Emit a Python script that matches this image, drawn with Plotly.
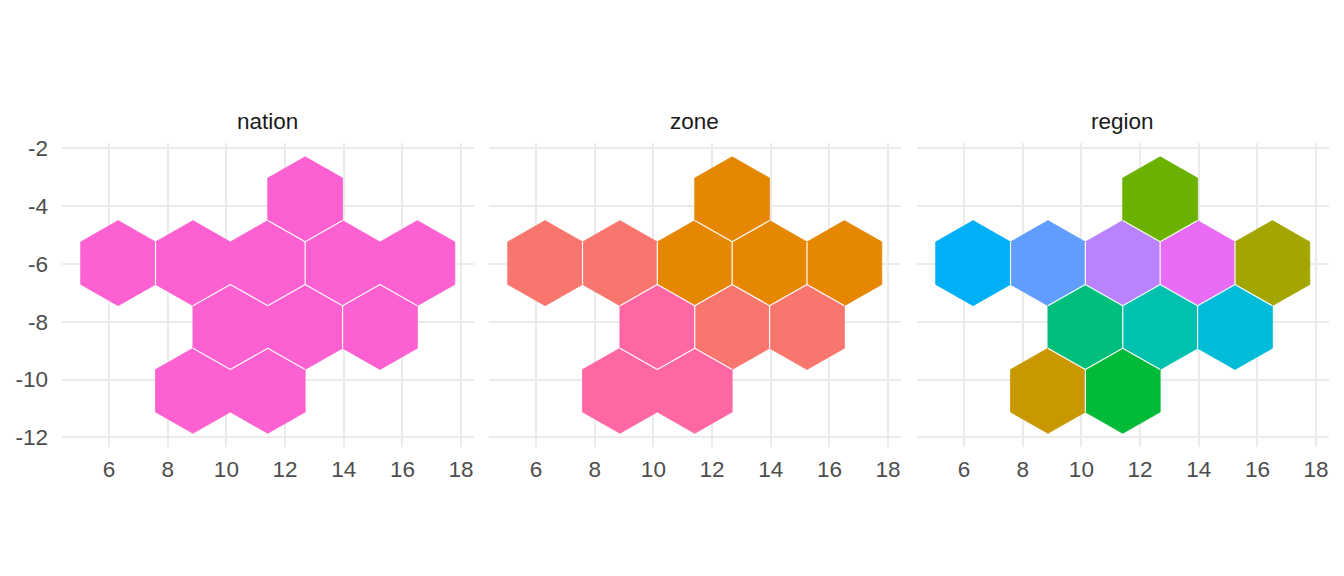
import numpy as np
import plotly.graph_objects as go

# ---------------- data ----------------
facets = ["nation", "zone", "region"]

regions = ["R01", "R02", "R03", "R04", "R05", "R06", "R07", "R08", "R09", "R10", "R11"]
hex_x = [6.31, 8.86, 11.41, 13.96, 16.51, 12.685, 10.135, 12.685, 15.235, 8.86, 11.41]
hex_y = [-5.97, -5.97, -5.97, -5.97, -5.97, -3.76, -8.18, -8.18, -8.18, -10.39, -10.39]
zones = ["Z1", "Z1", "Z2", "Z2", "Z2", "Z2", "Z3", "Z1", "Z1", "Z3", "Z3"]
nations = ["N"] * 11

# shared edges that appear seamless (no white line) in each facet
merged_edges = {
    "nation": [("R02", "R03"), ("R04", "R05"), ("R07", "R08"), ("R10", "R11")],
    "zone": [("R10", "R11")],
    "region": [],
}

x_ticks = [6, 8, 10, 12, 14, 16, 18]
x_tick_labels = ["6", "8", "10", "12", "14", "16", "18"]
y_ticks = [-2, -4, -6, -8, -10, -12]
y_tick_labels = ["-2", "-4", "-6", "-8", "-10", "-12"]

# ---------------- styles ----------------
fill_colors = {
    "N": "#FD61D1",
    "Z1": "#F8766D", "Z2": "#E58700", "Z3": "#FF67A4",
    "R01": "#00B0F6", "R02": "#619CFF", "R03": "#B983FF", "R04": "#E76BF3",
    "R05": "#A3A500", "R06": "#6BB100", "R07": "#00BF7D", "R08": "#00C0AF",
    "R09": "#00BCD8", "R10": "#C99800", "R11": "#00BA38",
}
FONT = "Liberation Sans, Arial, sans-serif"
FSIZE = 22.5
groups = {"nation": nations, "zone": zones, "region": regions}

cx = np.array(hex_x)
cy = np.array(hex_y)
n = len(cx)
dists = np.hypot(cx[:, None] - cx[None, :], cy[:, None] - cy[None, :])
step = np.min(dists[dists > 0])
r = step / np.sqrt(3)  # circumradius of pointy-top hexagon
angles = np.deg2rad([90, 30, -30, -90, -150, -210, 90])

xmin, xmax = cx.min() - step / 2, cx.max() + step / 2
ymin, ymax = cy.min() - r, cy.max() + r
xpad, ypad = 0.05 * (xmax - xmin), 0.05 * (ymax - ymin)
xrange_ = [xmin - xpad, xmax + xpad]
yrange_ = [ymin - ypad, ymax + ypad]

# page body has an 8px margin; figure fits inside the 1344x576 window
OFF = 8
W, H = 1344 - 2 * OFF, 576 - 2 * OFF


def fx(px):
    return (px - OFF) / W


def fy(py):
    return 1 - (py - OFF) / H


x_domains = [[fx(62), fx(473.5)], [fx(489), fx(900.5)], [fx(917), fx(1328.5)]]
y_domain = [fy(448), fy(138.3)]

fig = go.Figure()
idx = {name: i for i, name in enumerate(regions)}

for p, facet in enumerate(facets):
    xa = "x" if p == 0 else f"x{p+1}"
    ya = "y" if p == 0 else f"y{p+1}"
    grp = groups[facet]
    for i in range(n):
        col = fill_colors[grp[i]]
        fig.add_trace(go.Scatter(
            x=cx[i] + r * np.cos(angles), y=cy[i] + r * np.sin(angles),
            mode="lines", fill="toself", fillcolor=col,
            line=dict(color=col, width=0.8),
            hoverinfo="skip", showlegend=False, xaxis=xa, yaxis=ya))
    # white borders along shared edges
    merged = {frozenset((idx[a], idx[b])) for a, b in merged_edges[facet]}
    sx, sy = [], []
    for i in range(n):
        for j in range(i + 1, n):
            if dists[i, j] < 1.1 * step and frozenset((i, j)) not in merged:
                mx, my = (cx[i] + cx[j]) / 2, (cy[i] + cy[j]) / 2
                dx, dy = (cx[j] - cx[i]) / dists[i, j], (cy[j] - cy[i]) / dists[i, j]
                px, py = -dy * r / 2, dx * r / 2
                sx += [mx - px, mx + px, None]
                sy += [my - py, my + py, None]
    fig.add_trace(go.Scatter(x=sx, y=sy, mode="lines",
                             line=dict(color="white", width=1.2),
                             hoverinfo="skip", showlegend=False, xaxis=xa, yaxis=ya))

axis_common = dict(showgrid=True, gridcolor="#EBEBEB", gridwidth=1.8, zeroline=False,
                   showline=False, ticks="",
                   tickfont=dict(family=FONT, size=FSIZE, color="#4D4D4D"))
layout = dict(
    width=W, height=H, margin=dict(l=0, r=0, t=0, b=0),
    plot_bgcolor="white", paper_bgcolor="white", showlegend=False,
    font=dict(family=FONT),
)
for p in range(3):
    xk = "xaxis" if p == 0 else f"xaxis{p+1}"
    yk = "yaxis" if p == 0 else f"yaxis{p+1}"
    ya = "y" if p == 0 else f"y{p+1}"
    xa = "x" if p == 0 else f"x{p+1}"
    layout[xk] = dict(axis_common, domain=x_domains[p], range=xrange_, anchor=ya,
                      tickvals=x_ticks, ticktext=x_tick_labels, ticklabelstandoff=6)
    layout[yk] = dict(axis_common, domain=y_domain, range=yrange_, anchor=xa,
                      tickvals=y_ticks, ticktext=y_tick_labels,
                      showticklabels=(p == 0), ticklabelstandoff=13)
fig.update_layout(**layout)

for p, facet in enumerate(facets):
    fig.add_annotation(text=facet, xref="paper", yref="paper",
                       x=sum(x_domains[p]) / 2, y=fy(116.5),
                       xanchor="center", yanchor="middle", showarrow=False,
                       font=dict(family=FONT, size=FSIZE, color="#1A1A1A"))

fig.write_html("out.html")
